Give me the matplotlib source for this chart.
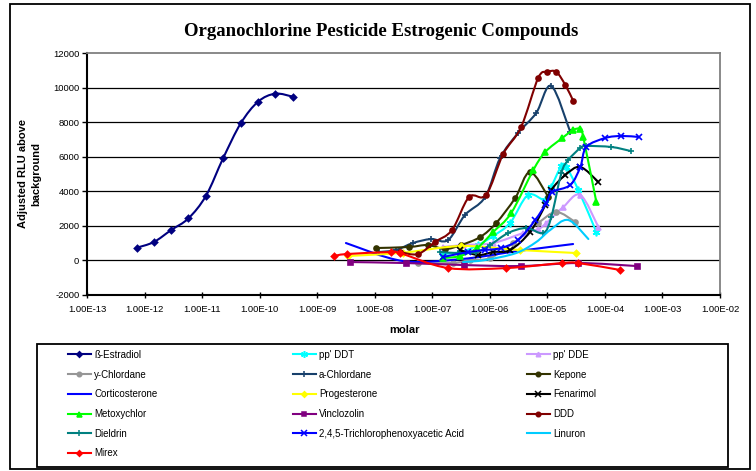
import matplotlib
matplotlib.use('Agg')
import numpy as np
import matplotlib.pyplot as plt
from matplotlib.patches import Rectangle, PathPatch
from matplotlib.path import Path
from matplotlib.lines import Line2D
from matplotlib.ticker import FixedLocator, NullLocator

# ---------------- data ----------------
estradiol_x = [7.3e-13, 1.45e-12, 2.9e-12, 5.8e-12, 1.17e-11, 2.33e-11, 4.7e-11, 9.4e-11, 1.87e-10, 3.75e-10]
estradiol_y = [714, 1045, 1742, 2422, 3734, 5923, 7938, 9193, 9657, 9483]

ddt_x = [1.53e-7, 3.16e-7, 6.25e-7, 1.14e-6, 2.25e-6, 4.6e-6, 9.2e-6, 1.17e-5, 1.75e-5, 2.13e-5, 3.46e-5, 7.1e-5]
ddt_y = [348, 465, 871, 1394, 2149, 3775, 3484, 4239, 5459, 5401, 4065, 1626]

dde_x = [1.54e-7, 3.43e-7, 1.14e-6, 3.8e-6, 6.95e-6, 9.6e-6, 1.89e-5, 3.74e-5, 7.7e-5]
dde_y = [755, 871, 987, 1568, 1800, 2149, 3078, 3775, 1916]

ychlordane_x = [5.6e-8, 2.3e-7, 4.5e-7, 1.01e-6, 2.55e-6, 6.95e-6, 1.43e-5, 3.06e-5]
ychlordane_y = [-174, -174, 0, 116, 987, 2149, 2787, 2207]

achlordane_x = [1.18e-8, 2.33e-8, 4.6e-8, 9.5e-8, 1.88e-7, 3.7e-7, 8.3e-7, 1.51e-6, 3.1e-6, 6.4e-6, 1.17e-5, 2.5e-5]
achlordane_y = [465, 581, 987, 1220, 1161, 2613, 3659, 5923, 7375, 8537, 10105, 7433]

kepone_x = [1.04e-8, 3.9e-8, 8.4e-8, 1.66e-7, 3.16e-7, 6.8e-7, 1.29e-6, 2.76e-6, 5.0e-6, 1.04e-5]
kepone_y = [697, 755, 871, 639, 871, 1336, 2149, 3601, 5110, 3659]

cortico_x = [3.16e-9, 3.1e-8, 3.2e-7, 3.1e-6, 2.8e-5]
cortico_y = [987, -58, 58, 523, 929]

progest_x = [3.4e-9, 3.09e-8, 3.16e-7, 3.37e-6, 3.19e-5]
progest_y = [232, 424, 813, 581, 407]

fenarimol_x = [3.03e-7, 6.25e-7, 1.14e-6, 2.25e-6, 5.0e-6, 9.2e-6, 1.17e-5, 2.05e-5, 3.74e-5, 7.7e-5]
fenarimol_y = [581, 290, 465, 581, 1626, 3194, 4065, 4936, 5401, 4530]

metoxy_x = [1.54e-7, 3.03e-7, 6.0e-7, 1.14e-6, 2.35e-6, 5.7e-6, 9.2e-6, 1.82e-5, 2.82e-5, 3.74e-5, 4.2e-5, 7.1e-5]
metoxy_y = [116, 232, 697, 1626, 2729, 5226, 6272, 7085, 7549, 7607, 7143, 3368]

vinclo_x = [3.68e-9, 3.48e-8, 3.57e-7, 3.5e-6, 3.46e-5, 3.54e-4]
vinclo_y = [-116, -174, -290, -348, -174, -348]

ddd_x = [2.74e-8, 5.64e-8, 1.11e-7, 2.2e-7, 4.36e-7, 8.6e-7, 1.71e-6, 3.5e-6, 6.93e-6, 9.95e-6, 1.43e-5, 2.05e-5, 2.82e-5]
ddd_y = [465, 348, 1045, 1742, 3659, 3775, 6156, 7724, 10569, 10918, 10918, 10163, 9233]

dieldrin_x = [1.36e-7, 2.8e-7, 5.8e-7, 1.01e-6, 2.08e-6, 4.3e-6, 8.5e-6, 1.17e-5, 1.75e-5, 2.31e-5, 3.74e-5, 4.76e-5, 1.3e-4, 2.79e-4]
dieldrin_y = [465, 407, 465, 871, 1568, 1858, 1568, 2497, 5052, 5807, 6504, 6620, 6562, 6330]

tcpaa_x = [1.54e-7, 4.19e-7, 8.3e-7, 1.57e-6, 3.1e-6, 6.15e-6, 9.6e-6, 1.22e-5, 2.5e-5, 3.74e-5, 4.76e-5, 1.02e-4, 1.94e-4, 3.84e-4]
tcpaa_y = [174, 465, 581, 697, 1161, 2323, 3310, 3949, 4355, 5401, 6562, 7085, 7201, 7143]

linuron_x = [3.43e-7, 8.3e-7, 2.87e-6, 6.4e-6, 1.12e-5, 2.31e-5, 5.16e-5]
linuron_y = [-116, 0, 407, 1045, 1742, 2323, 1220]

mirex_x = [1.94e-9, 3.26e-9, 1.9e-8, 2.74e-8, 1.88e-7, 1.92e-6, 1.82e-5, 3.46e-5, 1.86e-4]
mirex_y = [232, 348, 465, 407, -465, -465, -174, -174, -581]

x_tick_labels = ['1.00E-13', '1.00E-12', '1.00E-11', '1.00E-10', '1.00E-09', '1.00E-08',
                 '1.00E-07', '1.00E-06', '1.00E-05', '1.00E-04', '1.00E-03', '1.00E-02']
y_ticks = [-2000, 0, 2000, 4000, 6000, 8000, 10000, 12000]

# ---------------- style ----------------
series = [
    ("ß-Estradiol", estradiol_x, estradiol_y, '#000080', 'D', 3.2),
    ("pp' DDT", ddt_x, ddt_y, '#00FFFF', (6, 2, 0), 5.5),
    ("pp' DDE", dde_x, dde_y, '#CC99FF', '^', 3.6),
    ("y-Chlordane", ychlordane_x, ychlordane_y, '#969696', 'o', 3.6),
    ("a-Chlordane", achlordane_x, achlordane_y, '#17406B', '+', 5),
    ("Kepone", kepone_x, kepone_y, '#333300', 'o', 3.6),
    ("Corticosterone", cortico_x, cortico_y, '#0000FF', None, 0),
    ("Progesterone", progest_x, progest_y, '#FFFF00', 'D', 3.2),
    ("Fenarimol", fenarimol_x, fenarimol_y, '#000000', 'x', 4.5),
    ("Metoxychlor", metoxy_x, metoxy_y, '#00FF00', '^', 4),
    ("Vinclozolin", vinclo_x, vinclo_y, '#800080', 's', 3.6),
    ("DDD", ddd_x, ddd_y, '#800000', 'o', 3.6),
    ("Dieldrin", dieldrin_x, dieldrin_y, '#008080', '+', 5),
    ("2,4,5-Trichlorophenoxyacetic Acid", tcpaa_x, tcpaa_y, '#0000FF', 'x', 4.5),
    ("Linuron", linuron_x, linuron_y, '#00CCFF', None, 0),
    ("Mirex", mirex_x, mirex_y, '#FF0000', 'D', 3.2),
]

LW = 1.5


def smooth_path(xs, ys):
    """Excel-like smoothed line as cubic Bezier path (tangents in log-x space)."""
    u = np.log10(np.asarray(xs, float))
    v = np.asarray(ys, float)
    n = len(u)
    verts = [(xs[0], ys[0])]
    codes = [Path.MOVETO]
    for i in range(n - 1):
        a = max(i - 1, 0)
        b = min(i + 2, n - 1)
        c1u = u[i] + (u[i + 1] - u[a]) / 6.0
        c1v = v[i] + (v[i + 1] - v[a]) / 6.0
        c2u = u[i + 1] - (u[b] - u[i]) / 6.0
        c2v = v[i + 1] - (v[b] - v[i]) / 6.0
        verts += [(10 ** c1u, c1v), (10 ** c2u, c2v), (xs[i + 1], ys[i + 1])]
        codes += [Path.CURVE4, Path.CURVE4, Path.CURVE4]
    return Path(verts, codes)


W, H = 756, 471
fig = plt.figure(figsize=(W / 100, H / 100), dpi=100)
plt.rcParams['font.family'] = ['Liberation Sans', 'DejaVu Sans']

# outer chart border
fig.patches.append(Rectangle((10 / W, 1 - 469 / H), 740 / W, 465 / H, transform=fig.transFigure,
                             fill=False, edgecolor='black', lw=1.3))

L, R, T, B = 87, 720, 53.3, 294.5
ax = fig.add_axes([L / W, 1 - B / H, (R - L) / W, (B - T) / H])

for k, (name, xs, ys, col, mk, ms) in enumerate(series):
    ax.add_patch(PathPatch(smooth_path(xs, ys), fill=False, edgecolor=col, lw=LW,
                           capstyle='round', joinstyle='round', zorder=2 + k * 0.01))
    if mk is not None:
        ax.plot(xs, ys, linestyle='none', marker=mk, markersize=ms, color=col,
                markeredgewidth=1.2, zorder=2 + k * 0.01 + 0.005)

ax.set_xscale('log')
ax.set_xlim(1e-13, 1e-2)
ax.set_ylim(-2000, 12000)
ax.xaxis.set_major_locator(FixedLocator([10.0 ** k for k in range(-13, -1)]))
ax.xaxis.set_minor_locator(NullLocator())
ax.set_xticklabels(x_tick_labels)
ax.set_yticks(y_ticks)
ax.set_yticklabels([str(v) for v in y_ticks])
ax.tick_params(axis='both', labelsize=6.8, length=3.5, width=1, color='black', pad=2)
ax.tick_params(axis='x', direction='inout', length=5, pad=5)
for v in y_ticks[1:-1]:
    ax.axhline(v, color='black', lw=0.9, zorder=0.5)
for s in ['left', 'bottom']:
    ax.spines[s].set_color('black')
    ax.spines[s].set_linewidth(1.5)
for s in ['top', 'right']:
    ax.spines[s].set_color('#808080')
    ax.spines[s].set_linewidth(1.3)

fig.text(381 / W, 1 - 32 / H, 'Organochlorine Pesticide Estrogenic Compounds',
         family=['Liberation Serif', 'DejaVu Serif'], weight='bold', fontsize=13.5,
         ha='center', va='center')
fig.text(404 / W, 1 - 330 / H, 'molar', weight='bold', fontsize=8, ha='center', va='center')
fig.text(30 / W, 1 - 174 / H, 'Adjusted RLU above\nbackground', weight='bold', fontsize=8,
         ha='center', va='center', rotation=90, linespacing=1.4)

# legend frame
fig.patches.append(Rectangle((37 / W, 1 - 467 / H), 691 / W, 123 / H, transform=fig.transFigure,
                             fill=False, edgecolor='black', lw=1.3))
style = {s[0]: s for s in series}
cols = [
    ["ß-Estradiol", "y-Chlordane", "Corticosterone", "Metoxychlor", "Dieldrin", "Mirex"],
    ["pp' DDT", "a-Chlordane", "Progesterone", "Vinclozolin", "2,4,5-Trichlorophenoxyacetic Acid"],
    ["pp' DDE", "Kepone", "Fenarimol", "DDD", "Linuron"],
]
col_x = [60, 285, 519]
for cx, names in zip(col_x, cols):
    hs = []
    for n in names:
        _, _, _, col, mk, ms = style[n]
        hs.append(Line2D([], [], color=col, lw=LW, marker=mk, markersize=ms * 0.9,
                         markeredgewidth=1.1))
    fig.legend(hs, names, loc='upper left', bbox_to_anchor=(cx / W, 1 - 342 / H),
               frameon=False, fontsize=7, handlelength=2.4, handletextpad=0.3,
               labelspacing=1.0, borderpad=0.3, numpoints=1)

fig.savefig('out.png', dpi=100)
